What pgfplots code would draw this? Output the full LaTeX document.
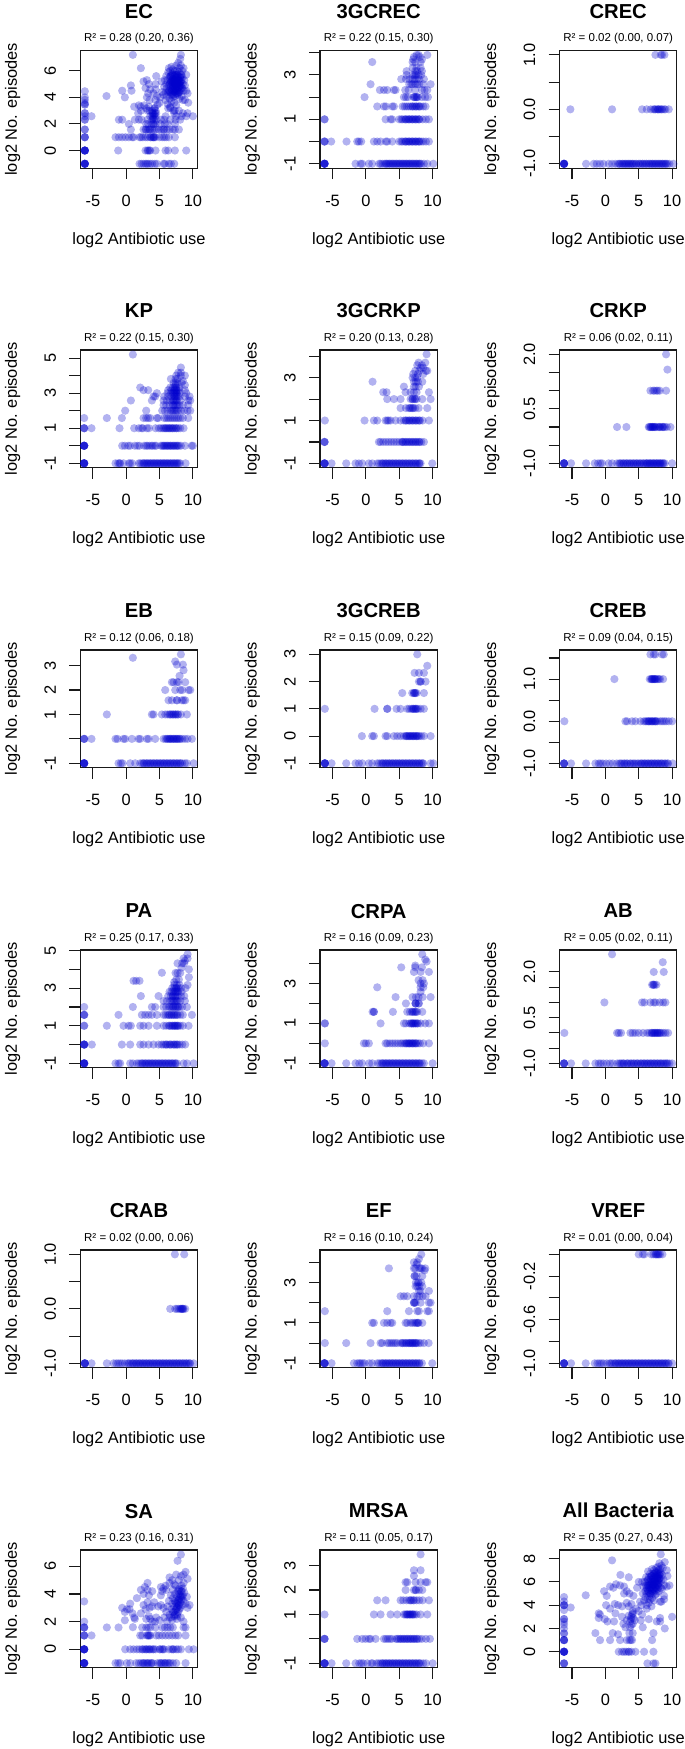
\documentclass[border=0pt]{standalone}
\usepackage{pgfplots}
\pgfplotsset{compat=1.18}
\usepackage{fontspec}
\setmainfont{Liberation Sans}
\definecolor{ptblue}{RGB}{0,0,205}
\pgfplotsset{
 pts/.style={only marks, mark=*, mark size=4.1pt, line width=0pt, draw opacity=0, mark options={draw opacity=0, line width=0pt, fill=ptblue, fill opacity=0.3}},
 p/.style n args={4}{
  at={(#1pt,#2pt)}, anchor=south west, scale only axis, width=117.4pt, height=117.7pt,
  xmin=-6.88, xmax=10.72, xtick={-5,0,5,10}, xticklabels={-5,0,5,10},
  tick align=outside, tick pos=left, major tick length=11pt, axis line style={line width=1.1pt,black!90},
  tick style={line width=1.1pt,black!90}, clip=true, axis on top,
  ticklabel style={font=\fontsize{16.4}{18}\selectfont},
  yticklabel style={rotate=90, anchor=base, yshift=13.5pt},
  xticklabel style={anchor=base, yshift=-27pt},
  xlabel={log2 Antibiotic use}, ylabel={log2 No. episodes},
  label style={font=\fontsize{16.4}{18}\selectfont},
  xlabel style={at={(axis description cs:0.5,0)}, anchor=base, yshift=-76pt},
  ylabel style={at={(axis description cs:0,0.5)}, rotate=0, anchor=base, yshift=63.5pt},
  title={#3}, title style={font=\bfseries\fontsize{20.2}{22}\selectfont, at={(axis description cs:0.5,1)}, anchor=base, yshift=26pt},
  extra description/.code={\node[font=\fontsize{11.5}{13}\selectfont, anchor=base] at (axis description cs:0.5,1) [yshift=8.5pt] {#4};},
 }
}
\begin{document}
\begin{tikzpicture}
\path[use as bounding box] (0,0) rectangle (685pt,1749pt);

% EC
\begin{axis}[p={80.3}{1580.8}{EC}{R² = 0.28 (0.20, 0.36)}, ymin=-1.33, ymax=7.53, ytick={0,2,4,6}, yticklabels={0,2,4,6}]
\addplot[pts] coordinates {(-6.2,-1)(-6.2,-1)(-6.2,-1)(-6.2,-1)(-6.2,-1)(-6.2,-1)(-6.2,0)(-6.2,0)(-6.2,0)(-6.2,0)(-6.2,0)(-6.2,0)(-6.2,1)(-6.2,1)(-6.2,1)(-6.2,1.58)(-6.2,1.58)(-6.2,2.32)(-6.2,2.32)(-6.2,2.58)(-6.2,2.81)(-6.2,2.81)(-6.2,3.46)(-6.2,3.46)(-6.2,3.58)(-6.2,3.81)(-6.2,4)(-6.2,4.46)(-5.2,2.58)
(2,-1)(2.3,-1)(2.6,-1)(2.9,-1)(3.1,-1)(3.3,-1)(3.6,-1)(3.9,-1)(4.3,-1)(4.6,-1)(5.6,-1)(5.8,-1)(6.4,-1)(6.7,-1)(7.2,-1)
(-1.2,0)(2.9,0)(3.2,0)(3.3,0)(3.5,0)(3.6,0)(4.4,0)(5.9,0)(6.3,0)(7.3,0)(9,0)
(-1.6,1)(-1.1,1)(-0.6,1)(-0.1,1)(0.4,1)(0.9,1)(1.1,1)(2,1)(2.2,1)(2.5,1)(2.9,1)(3.2,1)(3.6,1)(3.9,1)(4.1,1)(4.2,1)(4.4,1)(5,1)(5.4,1)(5.7,1)(6,1)(6.4,1)(7.3,1)
(0.7,1.58)(2.6,1.58)(2.9,1.58)(3,1.58)(3.3,1.58)(3.6,1.58)(3.9,1.58)(4.2,1.58)(4.5,1.58)(4.9,1.58)(5.3,1.58)(5.6,1.58)(5.7,1.58)(6.1,1.58)(6.5,1.58)(7,1.58)(7.3,1.58)(7.9,1.58)
(0.4,2)(3,2)(3.3,2)(3.8,2)(4.1,2)(4.4,2)(5.1,2)(5.8,2)(6.2,2)(7.3,2)
(-1.1,2.32)(-0.6,2.32)(1.3,2.32)(1.9,2.32)(2.3,2.32)(3.2,2.32)(3.9,2.32)(4.2,2.32)(4.5,2.32)(5.2,2.32)(5.7,2.32)(6.6,2.32)(7.4,2.32)(8.1,2.32)
(3.6,2.58)(3.9,2.58)(4.1,2.58)(4.4,2.58)(5.9,2.58)(7.5,2.58)(8.3,2.58)(9,2.58)(10,2.58)
(1.8,2.81)(3.9,2.81)(4,2.81)(4.3,2.81)(4.5,2.81)(7.2,2.81)(8.5,2.81)(9.2,2.81)
(2.2,3)(3.2,3)(3.5,3)(3.9,3)(4.4,3)(7.3,3)(7.9,3)
(1.2,3.3)(1.9,3.4)(2.2,3.3)(2.7,3.4)(3,3.17)(3.4,3.3)(4.2,3.17)(4.7,3.46)(6.3,3.17)(6.6,3.3)
(3.1,4)(3.5,3.8)(4.1,4.3)(4.6,4.1)(5.1,4)(5,3.58)(3.3,4.3)(4.4,3.8)
(2.6,5.2)(3.1,5.3)(4.5,5.6)(3.4,5)(2.9,4.7)(4.4,5)(4.4,4.6)(3.6,4.6)(5.3,5.2)(5.4,4.4)
(1,7.2)(2.2,6.2)(0.7,4.9)(0.8,4.5)(-0.6,4.5)(-0.2,4)(-2.95,4.1)(8.2,7.2)
(5.6,4.2)(5.7,4.8)(5.8,5.3)(5.9,3.8)(5.9,4.4)(6,5)(6,5.6)(6.1,4.1)(6.1,4.7)(6.2,3.5)(6.2,5.3)(6.3,5.9)(6.3,4.4)(6.4,4.9)(6.4,6.2)(6.5,3.9)(6.5,5.5)(6.5,4.5)(6.6,5.1)(6.6,6)(6.6,3.2)(6.7,4.2)(6.7,4.8)(6.7,5.6)(6.8,5.2)(6.8,3.7)(6.8,6.3)(6.9,4.5)(6.9,5)(6.9,5.8)(7,4)(7,5.4)(7,4.7)(7,6.1)(7.1,3)(7.1,5.1)(7.1,4.4)(7.2,5.6)(7.2,4.9)(7.2,3.6)(7.3,5.3)(7.3,4.6)(7.3,6)(7.3,4.1)(7.4,5)(7.4,5.7)(7.4,4.4)(7.5,6.4)(7.5,5.2)(7.5,4.8)(7.5,3.4)(7.6,5.5)(7.6,4.6)(7.6,6)(7.7,5)(7.7,4.2)(7.7,5.7)(7.8,5.3)(7.8,4.7)(7.8,6.6)(7.9,5.9)(7.9,4.4)(7.9,5)(8,5.5)(8,3.9)(8,4.8)(8,6.2)(8.1,6.9)(8.1,5.2)(8.1,4.5)(8.2,5.7)(8.2,4.9)(8.2,6.4)(8.3,5.3)(8.3,4.1)(8.4,6)(8.4,4.7)(8.4,5.5)(8.5,5)(8.5,3.8)(8.6,6.2)(8.6,4.5)(8.7,5.3)(8.8,4.9)(8.8,3.8)(9,5.7)(9,4.5)(9.2,4.3)(9.3,3.6)(7,5.2)(7.2,5.1)(7.4,5.4)(7.6,5.1)(7.3,4.9)(7.1,4.8)(7.5,4.5)(7.7,5.3)
(6.4,4.5)(6.5,5)(6.6,4.4)(6.6,5.6)(6.7,5.2)(6.8,4.6)(6.8,5.7)(6.9,4.2)(6.9,5.3)(7,4.9)(7,5.7)(7.1,4.2)(7.1,5.4)(7.2,4.5)(7.2,5.3)(7.3,5)(7.3,5.7)(7.4,4.7)(7.4,5.2)(7.5,4.3)(7.5,5.5)(7.6,4.9)(7.6,5.7)(7.7,4.5)(7.7,5.1)(7.8,5.6)(7.8,4.3)(7.9,4.8)(7.9,5.3)(8,5.1)(8,4.4)(8.1,5.5)(8.1,4.9)(8.2,5.2)(8.3,4.7)(8.3,5.7)(4,2.4)(4.2,2.7)(4.1,2)(4.3,3.2)(3.7,1)(4.1,1)(3.5,1.58)};
\end{axis}

% 3GCREC
\begin{axis}[p={320}{1580.8}{3GCREC}{R² = 0.22 (0.15, 0.30)}, ymin=-1.2, ymax=4.1, ytick={-1,0,1,2,3,4}, yticklabels={-1,,1,,3,}]
\addplot[pts] coordinates {(-6.2,-1)(-6.2,-1)(-6.2,-1)(-6.2,-1)(-6.2,-1)(-6.2,-1)(-6.2,0)(-6.2,0)(-6.2,0)(-5.2,0)(-6.2,1)(-6.2,1)
(-1.55,-1)(-0.8,-1)(-0.55,-1)(0.45,-1)(0.95,-1)(2,-1)(2.2,-1)(2.5,-1)(2.8,-1)(3,-1)(3.3,-1)(3.5,-1)(3.8,-1)(4,-1)(4.3,-1)(4.5,-1)(4.8,-1)(5,-1)(5.3,-1)(5.5,-1)(5.8,-1)(6,-1)(6.3,-1)(6.5,-1)(6.8,-1)(7,-1)(7.3,-1)(7.5,-1)(7.8,-1)(8,-1)(8.3,-1)(8.7,-1)(9.2,-1)(10.1,-1)
(-2.9,0)(-1.3,0)(-1.05,0)(-0.7,0)(1.2,0)(1.7,0)(2.2,0)(3,0)(3.2,0)(3.95,0)(5,0)(5.3,0)(5.5,0)(5.8,0)(6,0)(6.3,0)(6.5,0)(6.8,0)(7,0)(7.3,0)(7.5,0)(7.8,0)(8,0)(8.3,0)(8.6,0)(9,0)(9.45,0)
(2.95,1)(3.7,1)(3.95,1)(5,1)(5.3,1)(5.5,1)(5.8,1)(6,1)(6.3,1)(6.5,1)(6.8,1)(7,1)(7.3,1)(7.5,1)(7.8,1)(8,1)(8.5,1)(9,1)(9.45,1)
(1.7,1.58)(2.7,1.58)(3,1.58)(3.95,1.58)(4.2,1.58)(5.5,1.58)(5.8,1.58)(6.1,1.58)(6.4,1.58)(6.7,1.58)(7,1.58)(7.3,1.58)(7.6,1.58)(7.9,1.58)(8.2,1.58)(8.6,1.58)(8.95,1.58)
(-0.2,2)(5.7,2)(6,2)(6.3,2)(7.2,2)(7.4,2)(7.6,2)(7.8,2)(8.4,2)(8.9,2)(9.3,2)
(2.1,2.32)(2.7,2.32)(3.2,2.32)(4.2,2.32)(4.45,2.32)(5.9,2.32)(6.4,2.32)(7.4,2.32)(8.4,2.32)(8.8,2.32)(9.2,2.32)
(0.7,2.58)(6.5,2.58)(6.8,2.58)(7,2.58)(7.4,2.58)(7.7,2.58)(8,2.58)(8.6,2.58)(9.7,2.58)
(5.3,2.81)(6.0,2.81)(6.5,2.81)(7,2.81)(7.3,2.81)(7.6,2.81)(8,2.81)(8.7,2.81)
(6.1,3)(7,3)(7.3,3)(7.5,3)(7.9,3)(8.3,3)
(6.1,3.17)(7.4,3.17)(7.7,3.17)(8.4,3.17)
(0.95,3.58)(7,3.32)(7.6,3.32)(8.2,3.32)(7,3.58)(7.4,3.58)(8.2,3.58)
(7.1,3.7)(8.4,3.7)(7.2,3.81)(8.1,3.81)(7.6,3.9)(7.9,3.9)(9.2,3.9)
(3.1,-1)(3.6,-1)(4.1,-1)(4.6,-1)(5.1,-1)(5.6,-1)(6.1,-1)(6.6,-1)(7.1,-1)(7.6,-1)(8.1,-1)(6,0)(6.5,0)(7,0)(7.5,0)(8,0)(6,1)(6.5,1)(7,1)(7.5,1)(8,1)(7,1.58)(7.5,1.58)(8,1.58)(7.2,2)(7.6,2)};
\end{axis}

% CREC
\begin{axis}[p={559.5}{1580.8}{CREC}{R² = 0.02 (0.00, 0.07)}, ymin=-1.08, ymax=1.08, ytick={-1,-0.5,0,0.5,1}, yticklabels={-1.0,,0.0,,1.0}]
\addplot[pts] coordinates {(-6.2,-1)(-6.2,-1)(-6.2,-1)(-6.2,-1)(-6.2,-1)(-6.2,-1)(-2.9,-1)(-1.75,-1)(-1.3,-1)(-0.8,-1)(-0.3,-1)(0.5,-1)(1,-1)(1.5,-1)(1.9,-1)(2.2,-1)(2.5,-1)(2.8,-1)(3,-1)(3.3,-1)(3.5,-1)(3.8,-1)(4,-1)(4.3,-1)(4.6,-1)(5,-1)(5.3,-1)(5.6,-1)(5.9,-1)(6.2,-1)(6.5,-1)(6.8,-1)(7,-1)(7.3,-1)(7.5,-1)(7.8,-1)(8,-1)(8.3,-1)(8.5,-1)(8.8,-1)(9,-1)(9.3,-1)(9.6,-1)(10.2,-1)
(-5.25,0)(1,0)(5.5,0)(6.2,0)(6.8,0)(7.2,0)(7.5,0)(7.8,0)(8,0)(8.2,0)(8.5,0)(8.8,0)(9,0)(9.5,0)
(7.5,1)(8.3,1)(8.5,1)(8.85,1)
(2.1,-1)(2.6,-1)(3.1,-1)(3.6,-1)(4.1,-1)(4.6,-1)(5.1,-1)(5.6,-1)(6.1,-1)(6.6,-1)(7.1,-1)(7.6,-1)(8.1,-1)(8.6,-1)(9.1,-1)(7.4,0)(7.9,0)(8.4,0)};
\end{axis}

% KP
\begin{axis}[p={80.3}{1281.3}{KP}{R² = 0.22 (0.15, 0.30)}, ymin=-1.25, ymax=5.46, ytick={-1,0,1,2,3,4,5}, yticklabels={-1,,1,,3,,5}]
\addplot[pts] coordinates {(-6.3,-1)(-6.3,-1)(-6.3,-1)(-6.3,-1)(-6.3,-1)(-6.3,-1)(-6.3,0)(-6.3,0)(-6.3,0)(-6.3,0)(-6.3,0)(-6.3,0)(-6.3,1)(-6.3,1)(-6.3,1)(-6.3,1.58)(-5.2,1)
(-1.6,-1)(-1.2,-1)(-1,-1)(-0.9,-1)(-0.4,-1)(0.4,-1)(0.6,-1)(0.9,-1)(1.9,-1)(2.1,-1)(2.4,-1)(2.6,-1)(2.9,-1)(3.1,-1)(3.4,-1)(3.6,-1)(3.9,-1)(4.1,-1)(4.4,-1)(4.6,-1)(4.9,-1)(5.1,-1)(5.4,-1)(5.6,-1)(5.9,-1)(6.1,-1)(6.4,-1)(6.6,-1)(6.9,-1)(7.1,-1)(7.4,-1)(7.6,-1)(7.9,-1)(8.1,-1)(8.9,-1)
(-0.6,0)(-0.2,0)(0.3,0)(0.6,0)(1.3,0)(1.7,0)(2,0)(2.7,0)(3,0)(3.2,0)(3.5,0)(3.8,0)(4,0)(4.3,0)(4.5,0)(5.2,0)(5.4,0)(5.7,0)(5.9,0)(6.2,0)(6.4,0)(6.7,0)(6.9,0)(7.2,0)(7.4,0)(7.7,0)(7.9,0)(8.2,0)(8.8,0)(9.8,0)(10,0)
(-1,1)(1.2,1)(1.9,1)(2.3,1)(2.5,1)(3.1,1)(3.4,1)(4.4,1)(4.9,1)(5.2,1)(5.5,1)(5.7,1)(5.9,1)(6.2,1)(6.4,1)(6.7,1)(6.9,1)(7.2,1)(7.5,1)(7.8,1)(8.1,1)(8.6,1)
(-2.9,1.58)(-0.65,1.58)(2.6,1.58)(3,1.58)(3.3,1.58)(3.6,1.58)(4.6,1.58)(4.8,1.58)(5.7,1.58)(6,1.58)(6.3,1.58)(6.6,1.58)(6.9,1.58)(7.2,1.58)(7.5,1.58)(7.8,1.58)(8.1,1.58)(8.5,1.58)(9.3,1.58)
(-0.15,2)(3,2)(5.4,2)(5.8,2)(6.2,2)(6.6,2)(7,2)(7.4,2)(7.8,2)(8.2,2)(8.7,2)(9.2,2)(9.6,2)
(5.6,2.32)(6,2.32)(6.5,2.32)(7,2.32)(7.3,2.32)(7.7,2.32)(8,2.32)(8.5,2.32)(9.3,2.32)
(0.7,2.58)(3.85,2.58)(5.6,2.58)(6.1,2.58)(6.6,2.58)(7,2.58)(7.3,2.58)(7.6,2.58)(8.1,2.58)(9.3,2.58)(9.6,2.58)
(4.1,2.81)(4.35,2.81)(5.7,2.81)(6.3,2.81)(6.8,2.81)(7.2,2.81)(7.5,2.81)(8,2.81)(8.8,2.81)(9.5,2.81)
(4.6,3)(6.2,3)(6.7,3)(7,3)(7.3,3)(7.6,3)(8,3)(9,3)
(2.1,3.32)(2.6,3.17)(3.3,3.17)(6.3,3.17)(6.8,3.17)(7.2,3.17)(7.5,3.17)(7.9,3.17)(8.8,3.17)
(6.6,3.32)(7,3.32)(7.3,3.32)(7.5,3.32)(8,3.32)(8.8,3.46)(7.1,3.58)(7.4,3.58)(7.7,3.58)(8.3,3.58)(6.7,3.81)(7.4,3.81)(7.7,3.81)(8.2,4)(8.8,4)(7.5,4)(8.2,4.17)(8.2,4.46)(7.8,4.17)(8.5,3.7)(1,5.2)
(2.7,-1)(3.2,-1)(3.7,-1)(4.2,-1)(4.7,-1)(5.2,-1)(5.7,-1)(6.2,-1)(6.7,-1)(7.2,-1)(7.7,-1)(5.6,0)(6.1,0)(6.6,0)(7.1,0)(7.6,0)(6,1)(6.5,1)(7,1)(7.5,1)(6.8,2)(7.2,2)(7.6,2)(7.1,2.32)(7.5,2.32)(7.1,2.58)(7.5,2.58)(7.3,2.81)(7.7,2.81)(7.2,3)(7.5,3)(7.3,3.17)(7.6,3.17)(7.4,3.46)};
\end{axis}

% 3GCRKP
\begin{axis}[p={320}{1281.3}{3GCRKP}{R² = 0.20 (0.13, 0.28)}, ymin=-1.2, ymax=4.29, ytick={-1,0,1,2,3,4}, yticklabels={-1,,1,,3,}]
\addplot[pts] coordinates {(-6.2,-1)(-6.2,-1)(-6.2,-1)(-6.2,-1)(-6.2,-1)(-5.15,-1)(-2.95,-1)(-1.55,-1)(-1.05,-1)(-0.55,-1)(0.45,-1)(0.95,-1)(1.7,-1)(2,-1)(2.3,-1)(2.6,-1)(2.9,-1)(3.2,-1)(3.5,-1)(3.8,-1)(4.1,-1)(4.4,-1)(4.7,-1)(5,-1)(5.3,-1)(5.6,-1)(5.9,-1)(6.2,-1)(6.5,-1)(6.8,-1)(7.1,-1)(7.4,-1)(7.7,-1)(8,-1)(8.2,-1)(9.95,-1)
(-6.2,0)(-6.2,0)(-6.2,0)(1.95,0)(2.2,0)(2.6,0)(3,0)(3.4,0)(3.8,0)(4.2,0)(4.6,0)(5,0)(5.4,0)(5.6,0)(5.9,0)(6.2,0)(6.5,0)(6.8,0)(7.1,0)(7.4,0)(7.7,0)(8,0)(8.3,0)(8.7,0)
(-6.15,1)(-0.2,1)(1.2,1)(1.7,1)(2.95,1)(3.2,1)(3.4,1)(3.7,1)(4.45,1)(5.2,1)(5.7,1)(6,1)(6.3,1)(6.6,1)(6.9,1)(7.2,1)(7.5,1)(7.8,1)(8.1,1)(8.5,1)(9.45,1)
(5.2,1.58)(6,1.58)(6.45,1.58)(6.8,1.58)(7.1,1.58)(7.4,1.58)(7.9,1.58)(9.2,1.58)
(3.2,2)(4.2,2)(5.2,2)(6.7,2)(7,2)(7.3,2)(7.6,2)(8.45,2)(9.7,2)
(2.6,2.32)(3.1,2.32)(5.95,2.32)(6.7,2.32)(7.2,2.32)(7.6,2.32)(9.45,2.32)
(5.7,2.58)(7.2,2.58)(7.45,2.58)(7.95,2.58)
(1,2.81)(7.2,2.81)(7.5,2.81)(7.8,2.81)(8.45,2.81)
(7,3)(7.4,3)(7.7,3)(7.1,3.17)(7.8,3.17)(8.6,3.17)(7.4,3.32)(8,3.32)(9.2,3.32)(8.2,3.46)(8.6,3.46)(9,3.32)(7.7,3.58)(8.4,3.58)(7.9,3.7)(8.9,3.7)(9.1,4.09)
(2.5,-1)(3,-1)(3.5,-1)(4,-1)(4.5,-1)(5,-1)(5.5,-1)(6,-1)(6.5,-1)(7,-1)(7.5,-1)(8,-1)(5.5,0)(6,0)(6.5,0)(7,0)(7.5,0)(8,0)(6,1)(6.5,1)(7,1)(7.5,1)(8,1)(6.6,1.58)(7,1.58)(7,2)(7.4,2)};
\end{axis}

% CRKP
\begin{axis}[p={559.5}{1281.3}{CRKP}{R² = 0.06 (0.02, 0.11)}, ymin=-1.12, ymax=2.12, ytick={-1,-0.5,0,0.5,1,1.5,2}, yticklabels={-1.0,,,0.5,,,2.0}]
\addplot[pts] coordinates {(-6.2,-1)(-6.2,-1)(-6.2,-1)(-6.2,-1)(-6.2,-1)(-5.15,-1)(-2.9,-1)(-1.6,-1)(-1.1,-1)(-0.75,-1)(-0.5,-1)(0.5,-1)(1,-1)(1.75,-1)(2.1,-1)(2.4,-1)(2.7,-1)(3,-1)(3.3,-1)(3.6,-1)(3.9,-1)(4.2,-1)(4.5,-1)(4.8,-1)(5.1,-1)(5.4,-1)(5.7,-1)(6,-1)(6.2,-1)(6.4,-1)(6.6,-1)(6.8,-1)(7,-1)(7.2,-1)(7.4,-1)(7.6,-1)(7.8,-1)(8,-1)(8.2,-1)(8.4,-1)(8.6,-1)(8.9,-1)(10,-1)
(1.75,0)(3.15,0)(6.5,0)(6.6,0)(6.8,0)(7,0)(7.1,0)(7.3,0)(7.5,0)(7.7,0)(8,0)(8.2,0)(8.5,0)(8.7,0)(8.9,0)(9.2,0)(9.75,0)
(6.75,1)(7.15,1)(7.35,1)(7.65,1)(7.85,1)(8.15,1)(9.1,1)(9.3,1.58)(9.1,2)
(2.2,-1)(2.7,-1)(3.2,-1)(3.7,-1)(4.2,-1)(4.7,-1)(5.2,-1)(5.7,-1)(6.2,-1)(6.7,-1)(7.2,-1)(7.7,-1)(8.2,-1)(8.7,-1)(6.8,0)(7.1,0)(7.4,0)(8.1,0)(8.6,0)};
\end{axis}

% EB
\begin{axis}[p={80.3}{981.3}{EB}{R² = 0.12 (0.06, 0.18)}, ymin=-1.18, ymax=3.64, ytick={-1,0,1,2,3}, yticklabels={-1,,1,2,3}]
\addplot[pts] coordinates {(-6.3,-1)(-6.3,-1)(-6.3,-1)(-6.3,-1)(-6.3,-1)(-6.3,-1)(-1.15,-1)(-0.8,-1)(-0.55,-1)(0.6,-1)(1.35,-1)(2.1,-1)(2.4,-1)(2.7,-1)(3,-1)(3.3,-1)(3.6,-1)(3.9,-1)(4.2,-1)(4.5,-1)(4.8,-1)(5.1,-1)(5.4,-1)(5.7,-1)(6,-1)(6.3,-1)(6.6,-1)(6.9,-1)(7.2,-1)(7.5,-1)(7.8,-1)(8.1,-1)(8.4,-1)(8.8,-1)(9.1,-1)(10.1,-1)
(-6.3,0)(-6.3,0)(-6.3,0)(-5.2,0)(-1.6,0)(-1.3,0)(-0.4,0)(-0.15,0)(0.85,0)(1.85,0)(2.1,0)(3.1,0)(3.35,0)(4.35,0)(5.6,0)(5.9,0)(6.2,0)(6.4,0)(6.6,0)(6.8,0)(7,0)(7.2,0)(7.4,0)(7.6,0)(7.8,0)(8,0)(8.4,0)(8.8,0)(9.2,0)(9.85,0)
(-2.9,1)(3.85,1)(4.1,1)(5.35,1)(5.85,1)(6.2,1)(6.5,1)(6.8,1)(7.1,1)(7.4,1)(7.7,1)(8.2,1)(9.1,1)
(6.35,1.58)(6.85,1.58)(7.6,1.58)(8.35,1.58)(8.6,1.58)(8.85,1.58)
(5.85,2)(7.35,2)(8.1,2)(9.35,2)(9.6,2)
(6.85,2.32)(7.1,2.32)(7.6,2.32)(7.85,2.32)(8.85,2.32)
(8,2.58)(8.6,2.81)(7.6,3.04)(8.5,3.04)(7.35,3.17)(1,3.32)(8.2,3.46)
(2.6,-1)(3.1,-1)(3.6,-1)(4.1,-1)(4.6,-1)(5.1,-1)(5.6,-1)(6.1,-1)(6.6,-1)(7.1,-1)(7.6,-1)(8.1,-1)(6.1,0)(6.6,0)(7.1,0)(7.6,0)(8.1,0)(6.6,1)(7,1)(7.4,1)(7.8,1)(7.6,1.58)(8.4,2)};
\end{axis}

% 3GCREB
\begin{axis}[p={320}{981.3}{3GCREB}{R² = 0.15 (0.09, 0.22)}, ymin=-1.16, ymax=3.16, ytick={-1,0,1,2,3}, yticklabels={-1,0,1,2,3}]
\addplot[pts] coordinates {(-6.15,-1)(-6.15,-1)(-6.15,-1)(-6.15,-1)(-6.15,-1)(-5.15,-1)(-2.95,-1)(-1.55,-1)(-1.05,-1)(-0.55,-1)(0.45,-1)(0.95,-1)(1.7,-1)(2,-1)(2.3,-1)(2.6,-1)(2.9,-1)(3.2,-1)(3.5,-1)(3.8,-1)(4.1,-1)(4.4,-1)(4.7,-1)(5,-1)(5.3,-1)(5.6,-1)(5.9,-1)(6.2,-1)(6.5,-1)(6.8,-1)(7.1,-1)(7.4,-1)(7.7,-1)(8,-1)(8.3,-1)(8.6,-1)(9.7,-1)(10.1,-1)
(-0.6,0)(0.95,0)(1.2,0)(2.95,0)(3.2,0)(4.2,0)(4.7,0)(5.2,0)(5.7,0)(6,0)(6.2,0)(6.4,0)(6.6,0)(6.8,0)(7,0)(7.2,0)(7.4,0)(7.6,0)(7.8,0)(8,0)(8.3,0)(8.7,0)(9.7,0)
(-6.15,1)(1.3,1)(3.2,1)(3.2,1)(4.6,1)(5.2,1)(6.2,1)(6.5,1)(6.8,1)(7,1)(7.2,1)(7.4,1)(7.6,1)(7.8,1)(8.2,1)(8.7,1)
(5.45,1.58)(6.95,1.58)(7.2,1.58)(7.4,1.58)(7.6,1.58)(8.7,1.58)
(7.95,2)(8.2,2)(8.2,2)(8.95,2)(7.3,2.32)(7.95,2.32)(8.7,2.32)(9.2,2.58)(7.7,3)
(2.5,-1)(3,-1)(3.5,-1)(4,-1)(4.5,-1)(5,-1)(5.5,-1)(6,-1)(6.5,-1)(7,-1)(7.5,-1)(8,-1)(8.5,-1)(6.1,0)(6.6,0)(7.1,0)(7.6,0)(7.1,1)(7.5,1)(7.2,1.58)(7.4,1.58)};
\end{axis}

% CREB
\begin{axis}[p={559.5}{981.3}{CREB}{R² = 0.09 (0.04, 0.15)}, ymin=-1.1, ymax=1.69, ytick={-1,-0.5,0,0.5,1,1.5}, yticklabels={-1.0,,0.0,,1.0,}]
\addplot[pts] coordinates {(-6.2,-1)(-6.2,-1)(-6.2,-1)(-6.2,-1)(-5.15,-1)(-2.9,-1)(-1.5,-1)(-1,-1)(-0.75,-1)(-0.4,-1)(0.1,-1)(0.6,-1)(1.1,-1)(1.7,-1)(2.1,-1)(2.5,-1)(2.9,-1)(3.3,-1)(3.7,-1)(4.1,-1)(4.5,-1)(5,-1)(5.3,-1)(5.6,-1)(5.9,-1)(6.2,-1)(6.5,-1)(6.8,-1)(7.1,-1)(7.4,-1)(7.7,-1)(8,-1)(8.3,-1)(8.6,-1)(9,-1)(9.3,-1)(10.1,-1)
(-6.15,0)(3,0)(3.25,0)(4,0)(4.5,0)(5.25,0)(5.75,0)(6,0)(6.2,0)(6.4,0)(6.6,0)(6.8,0)(7,0)(7.2,0)(7.4,0)(7.6,0)(7.8,0)(8.2,0)(8.5,0)(8.8,0)(9.1,0)(9.5,0)(10,0)
(1.35,1)(6.65,1)(6.85,1)(7,1)(7.15,1)(7.3,1)(7.45,1)(7.6,1)(7.8,1)(8,1)(8.2,1)(8.65,1)
(6.75,1.585)(7.25,1.585)(7.5,1.585)(8.5,1.585)(8.75,1.585)
(2.3,-1)(2.8,-1)(3.2,-1)(3.8,-1)(4.3,-1)(4.8,-1)(5.4,-1)(5.9,-1)(6.4,-1)(6.9,-1)(7.4,-1)(7.9,-1)(8.4,-1)(8.9,-1)(9.4,-1)(6.5,0)(7,0)(7.5,0)(7,1)(7.4,1)};
\end{axis}

% PA
\begin{axis}[p={80.3}{681.3}{PA}{R² = 0.25 (0.17, 0.33)}, ymin=-1.23, ymax=5.03, ytick={-1,0,1,2,3,4,5}, yticklabels={-1,,1,,3,,5}]
\addplot[pts] coordinates {(-6.3,-1)(-6.3,-1)(-6.3,-1)(-6.3,-1)(-6.3,-1)(-6.3,-1)(-1.6,-1)(-1.15,-1)(-0.9,-1)(0.6,-1)(1,-1)(1.6,-1)(1.9,-1)(2.2,-1)(2.5,-1)(2.8,-1)(3.1,-1)(3.4,-1)(3.7,-1)(4,-1)(4.3,-1)(4.6,-1)(4.9,-1)(5.2,-1)(5.5,-1)(5.8,-1)(6.1,-1)(6.4,-1)(6.7,-1)(7,-1)(7.3,-1)(7.6,-1)(8.6,-1)(9.1,-1)(10.1,-1)
(-6.3,0)(-6.3,0)(-6.3,0)(-6.3,0)(-6.3,0)(-5.15,0)(-0.65,0)(0.6,0)(2.1,0)(2.6,0)(3.35,0)(4.1,0)(4.85,0)(5.3,0)(5.6,0)(5.9,0)(6.2,0)(6.5,0)(6.8,0)(7.1,0)(7.4,0)(7.7,0)(8,0)(8.4,0)(8.85,0)
(-6.3,1)(-6.3,1)(-2.9,1)(-0.4,1)(0.35,1)(0.7,1)(2.1,1)(2.6,1)(3.35,1)(4.6,1)(5.6,1)(6,1)(6.4,1)(6.7,1)(7,1)(7.2,1)(7.4,1)(7.6,1)(7.8,1)(8.1,1)(8.5,1)(9.35,1)
(-6.3,1.58)(-6.3,1.58)(-6.3,1.58)(-1.15,1.58)(2.35,1.58)(2.85,1.58)(3.35,1.58)(3.85,1.58)(4.6,1.58)(5.6,1.58)(5.9,1.58)(6.2,1.58)(6.5,1.58)(6.8,1.58)(7.1,1.58)(7.4,1.58)(7.7,1.58)(8.1,1.58)(8.5,1.58)(9.85,1.58)
(-6.3,2)(1,2)(3.85,2)(4.35,2)(5.6,2)(6,2)(6.4,2)(6.8,2)(7.1,2)(7.4,2)(7.7,2)(8,2)(8.4,2)(9.1,2)
(5.6,2.32)(6.1,2.32)(6.6,2.32)(7,2.32)(7.4,2.32)(7.7,2.32)(8.1,2.32)(8.8,2.32)
(2.2,2.58)(4.85,2.58)(6.3,2.58)(6.7,2.58)(7,2.58)(7.4,2.58)(7.7,2.58)(8.2,2.58)(8.7,2.58)
(6.5,2.81)(6.8,2.81)(7.1,2.81)(7.5,2.81)(7.8,2.81)(8.3,2.81)
(6.9,3)(7.2,3)(7.5,3)(7.8,3)(8.2,3)(8.9,3)(7.2,3.17)(7.6,3.17)(8,3.17)(9.2,3.17)(1.1,3.39)(1.5,3.39)(2,3.39)(7.2,3.32)(7.5,3.46)(7.9,3.46)(9.4,3.58)(5.35,3.82)(7.4,3.81)(7.7,3.81)(8.1,3.81)(9.4,4)(8.3,4.09)(7.7,4.32)(8.4,4.32)(8.7,4.32)(8.8,4.46)(9.2,4.58)(8.6,4.58)(9.2,4.8)
(2.4,-1)(2.9,-1)(3.4,-1)(3.9,-1)(4.4,-1)(4.9,-1)(5.4,-1)(5.9,-1)(6.4,-1)(6.9,-1)(7.4,-1)(6,0)(6.6,0)(7.2,0)(7.6,0)(6.5,1)(6.9,1)(7.3,1)(7.7,1)(6.4,1.58)(6.8,1.58)(7.2,1.58)(7.6,1.58)(6.6,2)(7,2)(7.4,2)(7.8,2)(6.8,2.32)(7.2,2.32)(7.6,2.32)(7,2.58)(7.4,2.58)(7.3,2.81)(7.7,2.81)(7.5,3)};
\end{axis}

% CRPA
\begin{axis}[p={320}{681.3}{CRPA}{R² = 0.16 (0.09, 0.23)}, ymin=-1.22, ymax=4.68, ytick={-1,0,1,2,3,4}, yticklabels={-1,,1,,3,}]
\addplot[pts] coordinates {(-6.2,-1)(-6.2,-1)(-6.2,-1)(-6.2,-1)(-6.2,-1)(-5.15,-1)(-2.95,-1)(-1.55,-1)(-1,-1)(-0.55,-1)(0.5,-1)(0.95,-1)(1.8,-1)(2.1,-1)(2.4,-1)(2.7,-1)(3,-1)(3.3,-1)(3.6,-1)(3.9,-1)(4.2,-1)(4.5,-1)(4.8,-1)(5.1,-1)(5.4,-1)(5.7,-1)(6,-1)(6.3,-1)(6.6,-1)(6.9,-1)(7.2,-1)(7.5,-1)(7.8,-1)(8.1,-1)(8.4,-1)(8.7,-1)(10,-1)
(-6.15,0)(-0.3,0)(0,0)(0.45,0)(2.95,0)(3.2,0)(3.6,0)(4,0)(4.4,0)(4.8,0)(5.2,0)(5.5,0)(5.8,0)(6.1,0)(6.3,0)(6.5,0)(6.7,0)(6.9,0)(7.1,0)(7.3,0)(7.5,0)(7.8,0)(8.1,0)(8.6,0)(9.45,0)
(-6.15,1)(-6.15,1)(2.2,1)(5.7,1)(6,1)(6.5,1)(6.8,1)(7,1)(7.2,1)(7.5,1)(7.8,1)(8.2,1)(8.9,1)(9.45,1)
(1,1.58)(1.2,1.58)(1.2,1.58)(4.05,1.58)(6.2,1.58)(6.6,1.58)(6.9,1.58)(7.2,1.58)(7.5,1.58)(7.7,1.58)(8.45,1.58)
(6,2)(7.45,2)(7.45,2)(7.95,2)(4.45,2.32)(7,2.32)(7.5,2.32)(7.9,2.32)(8.5,2.32)(9.7,2.32)
(1.7,2.81)(8.2,2.58)(8.2,2.81)(8.6,2.81)(8.7,3)(8.2,3)(7.9,3.17)(8.5,3.17)(9.45,3.58)(7.2,3.58)(8.2,3.58)(5.3,3.81)(7.4,3.9)(7.4,3.81)(8.4,3.81)(8.45,4.46)(8.9,4.2)(9.1,4.1)
(2.5,-1)(3,-1)(3.5,-1)(4,-1)(4.5,-1)(5,-1)(5.5,-1)(6,-1)(6.5,-1)(7,-1)(7.5,-1)(8,-1)(6,0)(6.5,0)(7,0)(7.5,0)(6.8,1)(7.1,1)(7.4,1)(7.7,1)(7,1.58)(7.4,1.58)(7.45,2)(7.9,2)};
\end{axis}

% AB
\begin{axis}[p={559.5}{681.3}{AB}{R² = 0.05 (0.02, 0.11)}, ymin=-1.14, ymax=2.72, ytick={-1,-0.5,0,0.5,1,1.5,2}, yticklabels={-1.0,,,0.5,,,2.0}]
\addplot[pts] coordinates {(-6.2,-1)(-6.2,-1)(-6.2,-1)(-6.2,-1)(-5.15,-1)(-2.95,-1)(-1.5,-1)(-1,-1)(-0.7,-1)(-0.3,-1)(0.2,-1)(0.7,-1)(1.1,-1)(1.8,-1)(2.1,-1)(2.5,-1)(2.8,-1)(3.2,-1)(3.5,-1)(3.9,-1)(4.2,-1)(4.6,-1)(4.9,-1)(5.3,-1)(5.6,-1)(5.9,-1)(6.2,-1)(6.5,-1)(6.8,-1)(7.1,-1)(7.4,-1)(7.7,-1)(8,-1)(8.3,-1)(8.6,-1)(9,-1)(9.3,-1)(9.6,-1)(10,-1)
(-6.15,0)(1.75,0)(2,0)(2.35,0)(3.75,0)(4.1,0)(4.5,0)(5,0)(5.65,0)(6.25,0)(6.6,0)(6.9,0)(7.1,0)(7.3,0)(7.5,0)(7.7,0)(7.9,0)(8.1,0)(8.4,0)(8.7,0)(9,0)(9.4,0)
(-0.15,1)(5.5,1)(5.85,1)(6.75,1)(7.25,1)(7.5,1)(8.15,1)(8.65,1)(9,1)(7,1.58)(7.2,1.58)(7.4,1.58)(7.65,1.58)(7.25,2)(8.75,2)(8.6,2.32)(1,2.58)
(2.3,-1)(2.7,-1)(3.3,-1)(3.8,-1)(4.3,-1)(4.8,-1)(5.3,-1)(5.8,-1)(6.3,-1)(6.8,-1)(7.3,-1)(7.8,-1)(8.3,-1)(8.8,-1)(9.2,-1)(7,0)(7.4,0)(7.8,0)(8.2,0)(7.2,1.58)};
\end{axis}

% CRAB
\begin{axis}[p={80.3}{381.3}{CRAB}{R² = 0.02 (0.00, 0.06)}, ymin=-1.08, ymax=1.08, ytick={-1,-0.5,0,0.5,1}, yticklabels={-1.0,,0.0,,1.0}]
\addplot[pts] coordinates {(-6.2,-1)(-6.2,-1)(-6.2,-1)(-6.2,-1)(-6.2,-1)(-5.2,-1)(-2.9,-1)(-1.9,-1)(-1.5,-1)(-1.2,-1)(-0.9,-1)(-0.6,-1)(-0.2,-1)(0.2,-1)(0.6,-1)(0.9,-1)(1.2,-1)(1.5,-1)(1.8,-1)(2.1,-1)(2.4,-1)(2.7,-1)(3,-1)(3.3,-1)(3.6,-1)(3.9,-1)(4.2,-1)(4.5,-1)(4.8,-1)(5.1,-1)(5.4,-1)(5.7,-1)(6,-1)(6.3,-1)(6.6,-1)(6.9,-1)(7.2,-1)(7.5,-1)(7.8,-1)(8.1,-1)(8.4,-1)(8.7,-1)(9,-1)(9.3,-1)(9.6,-1)(10.1,-1)
(6.6,0)(7.35,0)(7.6,0)(7.85,0)(8.2,0)(8.35,0)(8.6,0)(8.85,0)(7.3,1)(8.7,1)
(0.4,-1)(1,-1)(1.5,-1)(2,-1)(2.5,-1)(3,-1)(3.5,-1)(4,-1)(4.5,-1)(5,-1)(5.5,-1)(6,-1)(6.5,-1)(7,-1)(7.5,-1)(8,-1)(8.5,-1)(9,-1)(9.5,-1)(8.1,0)(8.4,0)(8.5,0)};
\end{axis}

% EF
\begin{axis}[p={320}{381.3}{EF}{R² = 0.16 (0.10, 0.24)}, ymin=-1.22, ymax=4.61, ytick={-1,0,1,2,3,4}, yticklabels={-1,,1,,3,}]
\addplot[pts] coordinates {(-6.2,-1)(-6.2,-1)(-6.2,-1)(-6.2,-1)(-6.2,-1)(-5.15,-1)(-1.8,-1)(-1.3,-1)(-1,-1)(-0.8,-1)(-0.5,-1)(-0.2,-1)(0.5,-1)(0.95,-1)(1.7,-1)(2,-1)(2.3,-1)(2.6,-1)(2.9,-1)(3.2,-1)(3.5,-1)(3.8,-1)(4.1,-1)(4.4,-1)(4.7,-1)(5,-1)(5.3,-1)(5.6,-1)(5.9,-1)(6.2,-1)(6.5,-1)(6.8,-1)(7.1,-1)(7.4,-1)(7.7,-1)(8,-1)(8.4,-1)(9.95,-1)
(-6.15,0)(-2.95,0)(0.7,0)(2.2,0)(2.45,0)(3.2,0)(3.5,0)(3.8,0)(4.1,0)(4.4,0)(4.7,0)(5.2,0)(5.5,0)(5.8,0)(6.1,0)(6.4,0)(6.6,0)(6.8,0)(7,0)(7.2,0)(7.4,0)(7.6,0)(7.9,0)(8.2,0)(8.7,0)(9.4,0)
(0.95,1)(1.2,1)(2.7,1)(3.2,1)(3.7,1)(3.95,1)(5.95,1)(6.2,1)(6.7,1)(7,1)(7.3,1)(7.7,1)(7.9,1)(8.45,1)
(-6.15,1.58)(3.2,1.58)(6.45,1.58)(7.7,1.58)(7.95,1.58)(9.2,1.58)(9.45,1.58)
(7.2,2)(7.2,2)(7.45,2)(8.2,2)(9.45,2)(9.7,2)
(5.2,2.32)(5.7,2.32)(6.2,2.32)(7.2,2.32)(7.7,2.32)(8,2.32)(8.5,2.32)(8.95,2.32)
(7.95,2.58)(8.2,2.58)(9.45,2.58)(7.45,2.81)(7.7,2.81)(8.0,2.81)(8.45,2.81)(7.5,3)(7.9,3)(8.3,3)
(7.3,3.32)(7.6,3.32)(8.45,3.32)(3.45,3.7)(7.2,3.7)(8,3.7)(8.4,3.7)(8.9,3.7)(7.6,3.9)(8.8,3.6)(7.2,4)(7.7,4)(7.95,4.17)(8.3,4.39)
(2.5,-1)(3,-1)(3.5,-1)(4,-1)(4.5,-1)(5,-1)(5.5,-1)(6,-1)(6.5,-1)(7,-1)(7.5,-1)(8,-1)(5.5,0)(6,0)(6.5,0)(7,0)(7.5,0)(7.5,1)(7.8,1)(7.3,2)(7.8,3)(7.3,3.32)(7.4,3.7)(8.2,3.7)};
\end{axis}

% VREF
\begin{axis}[p={559.5}{381.3}{VREF}{R² = 0.01 (0.00, 0.04)}, ymin=-1.04, ymax=0.04, ytick={-1,-0.8,-0.6,-0.4,-0.2,0}, yticklabels={-1.0,,-0.6,,-0.2,}]
\addplot[pts] coordinates {(-6.2,-1)(-6.2,-1)(-6.2,-1)(-6.2,-1)(-6.2,-1)(-5.15,-1)(-2.95,-1)(-1.6,-1)(-1.2,-1)(-0.9,-1)(-0.6,-1)(-0.3,-1)(0.2,-1)(0.6,-1)(1,-1)(1.3,-1)(1.6,-1)(1.9,-1)(2.2,-1)(2.5,-1)(2.8,-1)(3.1,-1)(3.4,-1)(3.7,-1)(4,-1)(4.3,-1)(4.6,-1)(4.9,-1)(5.2,-1)(5.5,-1)(5.8,-1)(6.1,-1)(6.4,-1)(6.7,-1)(7,-1)(7.3,-1)(7.6,-1)(7.9,-1)(8.2,-1)(8.5,-1)(8.8,-1)(9.1,-1)(9.4,-1)(10,-1)
(5,0)(5.6,0)(5.85,0)(6.9,0)(7.2,0)(7.5,0)(7.75,0)(8,0)(8.2,0)(8.55,0)
(0.8,-1)(1.5,-1)(2,-1)(2.5,-1)(3,-1)(3.5,-1)(4,-1)(4.5,-1)(5,-1)(5.5,-1)(6,-1)(6.5,-1)(7,-1)(7.5,-1)(8,-1)(8.5,-1)(9,-1)(9.5,-1)(7.6,0)(7.9,0)};
\end{axis}

% SA
\begin{axis}[p={80.3}{81.3}{SA}{R² = 0.23 (0.16, 0.31)}, ymin=-1.33, ymax=7.18, ytick={0,2,4,6}, yticklabels={0,2,4,6}]
\addplot[pts] coordinates {(-6.3,-1)(-6.3,-1)(-6.3,-1)(-6.3,-1)(-6.3,-1)(-6.3,-1)(-6.3,0)(-6.3,0)(-6.3,0)(-6.3,0)(-6.3,0)(-6.3,0)(-6.3,1)(-6.3,1)(-6.3,1)(-6.3,1.58)(-6.3,1.58)(-6.3,1.58)(-6.3,2)(-6.3,3.46)(-5.2,1)(-2.9,1.58)(-1.15,1.58)
(-1.6,-1)(-1.2,-1)(-0.9,-1)(0.1,-1)(0.6,-1)(1.5,-1)(1.9,-1)(2.2,-1)(2.5,-1)(2.8,-1)(3.1,-1)(3.4,-1)(3.7,-1)(4,-1)(4.7,-1)(5,-1)(5.3,-1)(5.6,-1)(5.9,-1)(6.2,-1)(6.6,-1)(7,-1)(7.5,-1)(8.9,-1)
(-0.15,0)(0.6,0)(1.1,0)(1.6,0)(2,0)(2.4,0)(2.8,0)(3.1,0)(3.4,0)(3.7,0)(4.1,0)(4.4,0)(5.1,0)(5.4,0)(5.7,0)(6.4,0)(6.8,0)(7.1,0)(7.5,0)(7.8,0)(8.2,0)(9.4,0)(10.1,0)
(2.1,1)(2.4,1)(3.1,1)(3.3,1)(3.6,1)(4.5,1)(4.9,1)(5.4,1)(5.9,1)(6.4,1)(6.9,1)(7.4,1)(7.8,1)(8.9,1)
(2.4,1.58)(3,1.58)(3.3,1.58)(3.6,1.58)(4.4,1.58)(5.4,1.58)(5.8,1.58)(6.2,1.58)(6.6,1.58)(7,1.58)(8.6,1.58)(8.9,1.58)
(0.95,2.6)(1.3,2.2)(1.2,2.3)(0.5,2.9)(0.1,2.9)(-0.2,2.7)(-0.6,3)(-0.2,2.1)(1.0,1.6)(2.2,2.6)(2.9,2.9)(3.4,2.4)(3.6,2.2)(3.9,2)(4.3,2)(4.5,2.3)(5,2.1)(5.7,2.3)(6.1,2)(6.5,2.3)(6.9,2.1)(7.3,2.5)(7.7,2.4)(8.2,2.3)(8.6,2)(2.6,3.2)(3.2,3.4)(3.5,3)(3.9,3.1)(4.2,3.4)(4.8,3.1)(5.2,3.2)(5.6,3)(0.6,3.3)(1.6,3.7)(2.2,4.3)(2.8,4.5)(3.2,4.8)(2.6,4)(3.4,3.9)(3.9,4.2)(3.2,4.3)(3.0,2.2)(5.2,3.9)(5.4,4.2)(5.6,4.4)(6,4.3)(5.2,4.5)
(6,2.7)(6.2,3.1)(6.4,3.5)(6.5,2.5)(6.7,3.9)(6.8,2.9)(6.9,3.3)(7,3.7)(7,4.3)(7.1,2.7)(7.2,3.1)(7.3,3.5)(7.3,4)(7.4,4.6)(7.5,2.9)(7.5,3.3)(7.6,3.8)(7.6,2.5)(7.7,4.2)(7.8,3.1)(7.8,3.5)(7.9,4)(8,4.4)(8,2.9)(8.1,3.4)(8.2,3.8)(8.2,4.2)(8.3,4.6)(8.4,3.2)(8.5,3.9)(8.5,4.4)(8.6,3.5)(8.7,4.1)(8.9,3.3)(9.1,3.8)(9.2,3.0)(9.5,3.2)
(6.5,5.2)(6.9,5)(7.2,4.7)(7.5,5.4)(7.9,5)(8.2,5.3)(8.6,5.4)(8.9,5.6)(9.2,5.1)(7.7,6.4)(8.2,6.85)(6.5,4.8)(5.9,4.6)(8.6,4.8)(7.4,3.4)(7.6,3.0)(7.9,3.6)(8.1,3.9)(7.7,3.3)(8.3,3.6)
(2.5,0)(3,0)(3.5,0)(4,0)(5,0)(5.5,0)(7,0)(2.6,-1)(3.2,-1)(3.8,-1)(5.2,-1)(5.8,-1)(6.4,-1)(3.3,1)(3.5,1)(6.8,2.3)(7,2.7)(7.2,2.4)(7.4,2.8)(7.6,2.2)(7.8,2.7)(7.9,3.2)(8.1,3)(8.3,4.2)(8,3.7)(7.9,4.3)(8.4,3.8)};
\end{axis}

% MRSA
\begin{axis}[p={320}{81.3}{MRSA}{R² = 0.11 (0.05, 0.17)}, ymin=-1.18, ymax=3.64, ytick={-1,0,1,2,3}, yticklabels={-1,,1,2,3}]
\addplot[pts] coordinates {(-6.2,-1)(-6.2,-1)(-6.2,-1)(-6.2,-1)(-6.2,-1)(-5.15,-1)(-2.95,-1)(-1.55,-1)(-1,-1)(-0.7,-1)(-0.4,-1)(0.2,-1)(0.8,-1)(1,-1)(1.6,-1)(1.9,-1)(2.2,-1)(2.5,-1)(2.8,-1)(3.1,-1)(3.4,-1)(3.7,-1)(4,-1)(4.3,-1)(4.6,-1)(4.9,-1)(5.2,-1)(5.5,-1)(5.8,-1)(6.1,-1)(6.4,-1)(6.7,-1)(7,-1)(7.3,-1)(7.6,-1)(7.9,-1)(8.2,-1)(8.6,-1)(9,-1)(10,-1)
(-6.2,0)(-6.2,0)(-6.2,0)(-1.3,0)(-0.55,0)(-0.05,0)(0.45,0)(0.7,0)(1.45,0)(2.7,0)(3,0)(3.3,0)(3.6,0)(3.9,0)(4.5,0)(4.7,0)(4.9,0)(5.2,0)(5.5,0)(5.8,0)(6.1,0)(6.4,0)(6.7,0)(7,0)(7.3,0)(7.6,0)(8,0)(8.4,0)(9,0)(9.6,0)
(-6.2,1)(1.2,1)(2.2,1)(3.7,1)(4.7,1)(5.7,1)(5.9,1)(6.1,1)(6.3,1)(6.5,1)(6.7,1)(6.9,1)(7.1,1)(7.3,1)(7.6,1)(8.2,1)(9.2,1)
(1.7,1.58)(2.95,1.58)(5.2,1.58)(5.6,1.58)(6.1,1.58)(6.5,1.58)(6.8,1.58)(7.2,1.58)(7.6,1.58)(8,1.58)(8.5,1.58)(9.45,1.58)
(5.95,2)(7.2,2)(7.45,2)(7.95,2)(8.45,2)
(5.95,2.32)(6.2,2.32)(7.45,2.32)(8.2,2.32)(8.95,2.32)(9.2,2.32)
(7.2,2.58)(7.2,2.81)(8.2,2.81)(8.2,3.46)
(2.5,-1)(3,-1)(3.5,-1)(4,-1)(4.5,-1)(5,-1)(5.5,-1)(6,-1)(6.5,-1)(7,-1)(7.5,-1)(8,-1)(5.2,0)(5.7,0)(6.2,0)(6.7,0)(7.2,0)(7.7,0)(6.2,1)(6.6,1)(7,1)(6.7,1.58)(7.1,1.58)(7.5,2)};
\end{axis}

% All Bacteria
\begin{axis}[p={559.5}{81.3}{All Bacteria}{R² = 0.35 (0.27, 0.43)}, ymin=-1.37, ymax=8.74, ytick={0,2,4,6,8}, yticklabels={0,2,4,6,8}]
\addplot[pts] coordinates {(-6.2,-1)(-6.2,-1)(-6.2,-1)(-6.2,0)(-6.2,0)(-6.2,0)(-6.2,0)(-6.2,0)(-6.2,0)(-6.2,1)(-6.2,1)(-6.2,1)(-6.2,1)(-6.2,1.58)(-6.2,1.58)(-6.2,2)(-6.2,2.32)(-6.2,2.58)(-6.2,2.81)(-6.2,2.81)(-6.2,3.58)(-6.2,4)(-6.2,4)(-6.2,4)(-6.2,4.32)(-6.2,4.7)(-5.2,3.8)(-2.95,4.85)
(6.3,-1)(7.2,-1)(7.5,-1)(2,0)(2.5,0)(2.8,0)(3.1,0)(3.5,0)(3.9,0)(4.5,0)(5.8,0)(7.2,0)
(1,7.85)(2.25,6.6)(3.5,6.4)(4.75,5.5)(-1.5,1.6)(-0.8,1)(0.7,1)(1.1,1.6)(1.9,1.5)(2.2,1)(3.2,1)(3.6,1)(4,1)(3.6,1.6)(4.1,1.6)(7,1)(7.2,1.6)(8.2,2.6)(8.9,2)(10,3)
(-1,2.9)(-1,3.3)(-0.8,3.2)(-0.1,2.8)(0.3,2.6)(1.3,2.6)(1.5,3.3)(0.7,3.7)(0.1,4)(0.2,4.8)(-0.2,5.2)(1.2,5.5)(0.7,5.6)(1.6,5.8)(2.2,5.7)(2.8,5.6)(1.4,4.1)(1.9,4)(2.5,3.9)(2.8,5)(3.2,5.2)(3.6,5)(3.2,4.2)(3.5,3.9)(3.9,4.1)(4.2,4.8)(2.5,3)(2.7,2.4)(3,2.1)(3.2,2.7)(3.5,3.1)(3.7,2.6)(3.9,3)(4.1,3.3)(4.4,2.7)(3.7,2.1)(4.1,2.4)(5.3,2.7)(5.6,2.1)(5.5,3.2)(5,3.5)(4.6,3.7)(5.5,6)(5,6)(5.2,4.3)(5.4,4)(6.2,3.7)(6.5,2.8)(7.7,2.6)(8.2,2.9)(8.8,4.5)(8.4,4.3)
(5.6,5)(5.7,5.6)(5.8,4.4)(5.9,6)(6,5.2)(6,4.7)(6.1,5.7)(6.1,6.4)(6.2,5)(6.2,4)(6.3,5.4)(6.3,6.1)(6.3,4.5)(6.4,5.7)(6.4,6.9)(6.5,5.1)(6.5,4.2)(6.5,6.4)(6.6,4.8)(6.6,5.5)(6.6,6)(6.7,5.3)(6.7,6.7)(6.7,4.5)(6.8,5.8)(6.8,6.2)(6.8,5)(6.9,5.5)(6.9,6.5)(6.9,3.9)(7,6)(7,5.2)(7,7.1)(7,4.6)(7.1,5.7)(7.1,6.3)(7.1,5)(7.2,6.7)(7.2,5.4)(7.2,6)(7.3,5.8)(7.3,4.4)(7.3,7)(7.3,6.4)(7.4,5.2)(7.4,6.2)(7.4,5.6)(7.5,6.8)(7.5,4.9)(7.5,6)(7.6,6.5)(7.6,7.2)(7.6,5.5)(7.7,5.9)(7.7,6.3)(7.7,5)(7.8,6.8)(7.8,6.1)(7.8,5.4)(7.9,7.3)(7.9,6.5)(7.9,5.8)(8,6.2)(8,7)(8,5.2)(8.1,7.6)(8.1,6.6)(8.1,5.9)(8.2,6.3)(8.2,4.3)(8.2,7.1)(8.3,5.5)(8.3,6.8)(8.4,7.4)(8.4,6.1)(8.5,6.6)(8.5,5.4)(8.6,7.2)(8.7,6.2)(8.8,5.7)(8.8,4.8)(8.3,8.37)(8.9,7.7)(9.2,7)(9.3,6.5)(9.6,5.7)(9.2,5.6)
(6.2,5.5)(6.4,5.2)(6.4,6.2)(6.6,5.8)(6.7,5)(6.8,6.5)(6.8,5.5)(7,5.8)(7,6.5)(7.1,5.4)(7.2,6.2)(7.2,5.7)(7.3,6.7)(7.3,5.3)(7.4,6)(7.4,6.5)(7.5,5.5)(7.5,6.3)(7.6,5.8)(7.6,6.9)(7.7,6.6)(7.8,5.7)(7.8,6.4)(7.9,6.1)(8,6.7)(8,5.6)(8.1,6.3)(8.2,6.7)(6.5,5.7)(6.9,6)(3.8,2.8)(4,3.2)(3.9,2.3)(4.2,2.9)(4.1,3.5)(3.5,0)(3.8,1)};
\end{axis}
\end{tikzpicture}
\end{document}
